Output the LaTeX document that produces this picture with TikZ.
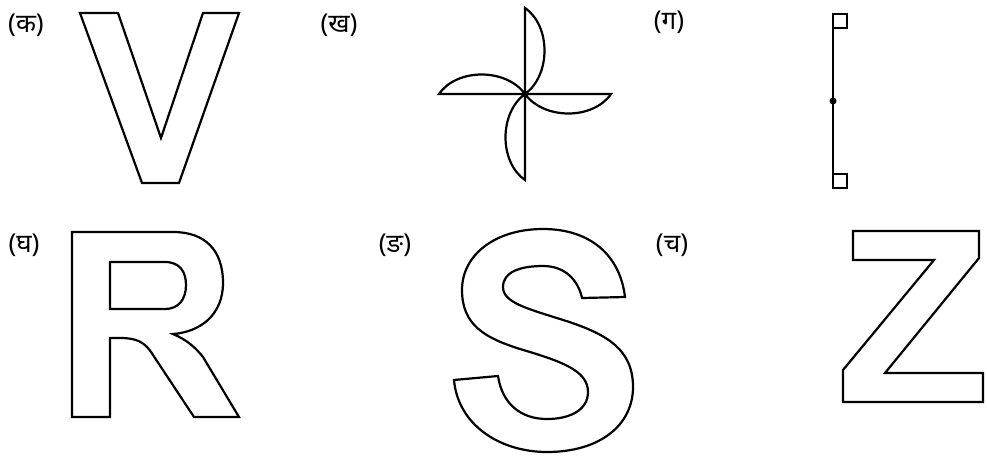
\documentclass[tikz,border=0pt]{standalone}
\usepackage{fontspec}
\newfontfamily\devfont[Script=Devanagari]{Noto Sans}
\usetikzlibrary{positioning, calc}

\begin{document}
\begin{tikzpicture}[
  x=1pt, y=-1pt,
  outline/.style={draw, line width=2.2pt, line join=miter},
  lbl/.style={font=\devfont\fontsize{26}{30}\selectfont, inner sep=0pt}
]
  \useasboundingbox (0,0) rectangle (987,455);
  % Labels
  \node[lbl] (ka)  at (26,25)   {(क)};
  \node[lbl] (kha) at (339,25)  {(ख)};
  \node[lbl] (ga)  at (669,22)  {(ग)};
  \node[lbl] (gha) at (24,245)  {(घ)};
  \node[lbl] (nga) at (395,245) {(ङ)};
  \node[lbl] (cha) at (672,245) {(च)};
  % V
  \draw[outline] (80,13) -- (118,13) -- (161,138) -- (203,13) -- (239,13)
    -- (179,183) -- (142,183) -- cycle;
  % Pinwheel
  \coordinate (hub) at (525,94);
  \foreach \a in {0,-90,-180,-270} {
    \draw[outline, rotate around={\a:(hub)}] (hub) -- ++(0,-86)
      .. controls ++(26,18) and ($(hub)+(26,-19)$) .. (hub);
  }
  \fill (hub) circle (3.5);
  % Line segment
  \coordinate (segtop) at (833,14);
  \coordinate (segbot) at (833,188);
  \draw[outline] (segtop) -- (segbot);
  \draw[outline] (segtop) rectangle ++(14,14);
  \draw[outline] (segbot) rectangle ++(14,-14);
  \fill (833,101) circle (3.5);
  % R
  \draw[outline] (72,232) -- (173,232)
    .. controls (205,232) and (223,250) .. (223,283)
    .. controls (223,315) and (200,332) .. (173,334)
    .. controls (187,340) and (195,347) .. (203,357)
    -- (239,417) -- (194,417) -- (153,355)
    .. controls (145,342) and (137,338) .. (120,338)
    -- (110,338) -- (110,417) -- (72,417) -- cycle;
  \draw[outline] (110,262) -- (165,262)
    .. controls (180,262) and (186,272) .. (186,285)
    .. controls (186,300) and (178,309) .. (165,309)
    -- (110,309) -- cycle;
  % S
  \draw[outline] (582,298) -- (625,297)
    .. controls (620,255) and (590,229) .. (543,229)
    .. controls (495,229) and (462,255) .. (462,290)
    .. controls (462,325) and (485,338) .. (520,349)
    .. controls (560,361) and (588,370) .. (588,392)
    .. controls (588,410) and (570,419) .. (547,419)
    .. controls (520,419) and (502,403) .. (498,376)
    -- (454,380)
    .. controls (458,425) and (500,452) .. (547,452)
    .. controls (600,452) and (633,425) .. (633,387)
    .. controls (633,348) and (605,333) .. (560,319)
    .. controls (525,308) and (503,302) .. (503,287)
    .. controls (503,272) and (520,266) .. (543,266)
    .. controls (565,266) and (578,280) .. (582,298)
    -- cycle;
  % Z
  \draw[outline] (853,231) -- (979,231) -- (979,258) -- (885,373) -- (983,373)
    -- (983,402) -- (843,402) -- (843,370) -- (934,260) -- (853,260) -- cycle;
\end{tikzpicture}
\end{document}
